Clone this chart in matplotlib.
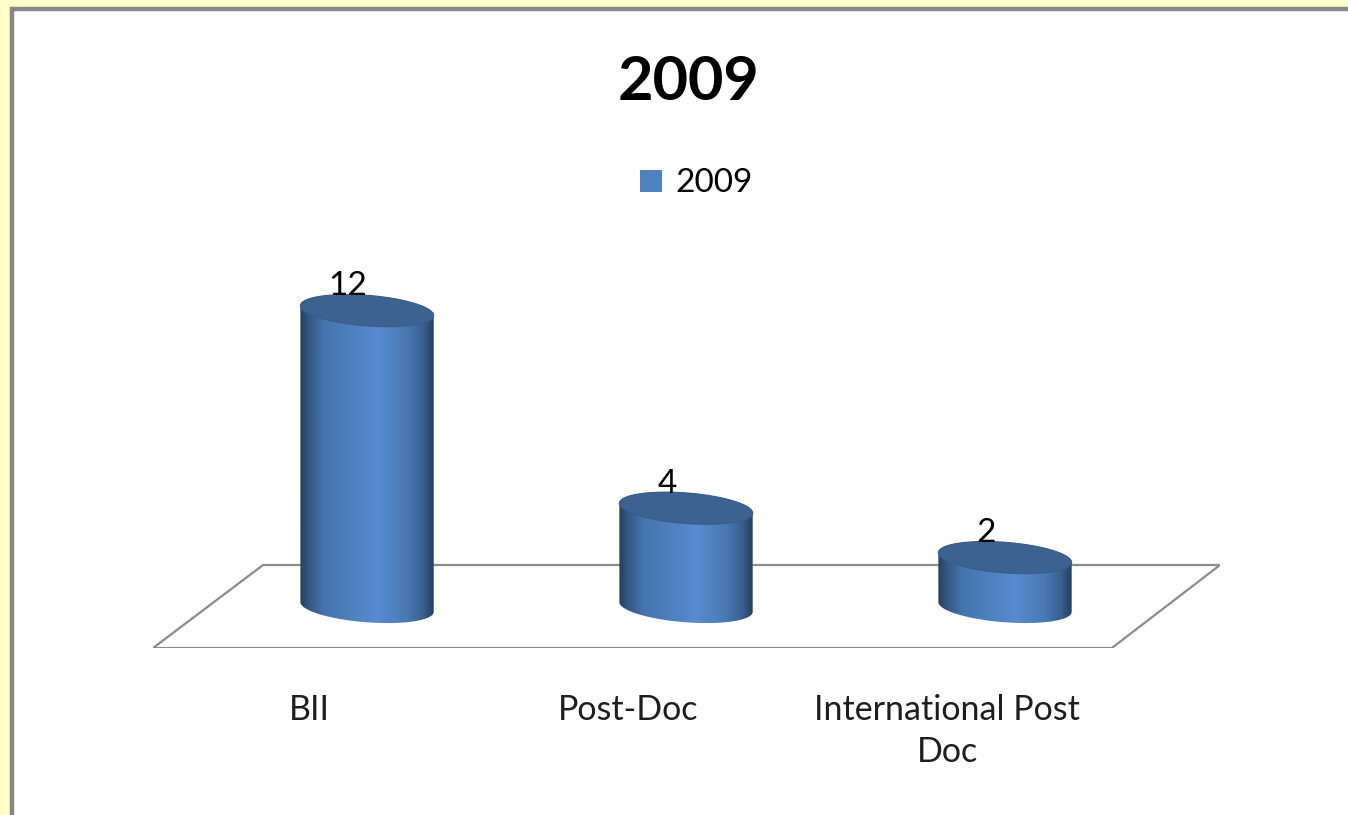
import numpy as np
import matplotlib
matplotlib.use("Agg")
import matplotlib.pyplot as plt
from matplotlib.path import Path
from matplotlib.patches import PathPatch, Rectangle, Polygon
from matplotlib.colors import LinearSegmentedColormap
import matplotlib.transforms as mtransforms

plt.rcParams['font.family'] = ['Lato', 'DejaVu Sans']

categories = ['BII', 'Post-Doc', 'International Post\nDoc']
values = [12, 4, 2]
series_name = '2009'
title = '2009'

fig = plt.figure(figsize=(13.48, 8.15), dpi=100)
fig.patch.set_facecolor('#ffffcc')

# grey chart frame (runs off the right and bottom edges)
frame = Rectangle((12 / 1348, -0.05), 1.1, (815 - 9) / 815 + 0.05,
                  transform=fig.transFigure, facecolor='white',
                  edgecolor='#878787', linewidth=3.2, zorder=-10)
fig.add_artist(frame)

ax = fig.add_axes([153 / 1348, (815 - 648) / 815, (1220 - 153) / 1348, (648 - 280) / 815])
ax.axis('off')
ax.patch.set_alpha(0)

# floor of the 3D plot
floor = Polygon([(-0.671, -1.66), (2.335, -1.66), (2.674, 1.70), (-0.326, 1.70)],
                closed=True, facecolor='none', edgecolor='#8c8c8c', linewidth=1.6)
ax.add_patch(floor)

cmap = LinearSegmentedColormap.from_list('cyl', [
    (0.0, '#24405f'), (0.06, '#34557f'), (0.18, '#4575ad'),
    (0.45, '#5283c4'), (0.58, '#588bd0'), (0.80, '#4a78b2'),
    (0.92, '#3a5f8f'), (1.0, '#263f5f')])

a = 0.209    # half width in category units
b = 0.62     # ellipse half height in value units
s = -0.95    # slight tilt of ellipses
t = np.linspace(0, 2 * np.pi, 200)

def ell(cx, cy, tt):
    dx = a * np.cos(tt)
    return cx + dx, cy + b * np.sin(tt) + s * dx

for i, v in enumerate(values):
    # body: back arc of top, then front arc of bottom
    tb = np.linspace(0, np.pi, 100)
    xt, yt = ell(i, v, tb)
    tf = np.linspace(np.pi, 2 * np.pi, 100)
    xb, yb = ell(i, 0, tf)
    verts = np.column_stack([np.concatenate([xt, xb]), np.concatenate([yt, yb])])
    body = PathPatch(Path(np.vstack([verts, verts[:1]])), facecolor='none', edgecolor='none')
    ax.add_patch(body)
    grad = np.linspace(0, 1, 256).reshape(1, -1)
    im = ax.imshow(grad, cmap=cmap, aspect='auto',
                   extent=(i - a, i + a, -b - abs(s) * a - 0.1, v + b + abs(s) * a + 0.1),
                   zorder=2)
    im.set_clip_path(body)
    xe, ye = ell(i, v, t)
    ax.add_patch(Polygon(np.column_stack([xe, ye]), closed=True,
                         facecolor='#3d6290', edgecolor='#3a5d89', linewidth=0.8, zorder=3))
    ax.text(i - 0.06, v + 0.38, str(v), ha='center', va='bottom',
            fontsize=24, color='black', zorder=4)

ax.set_xlim(-0.671, 2.674)
ax.set_ylim(-1.66, 13.24)

# category labels at the front edge of the floor
offset = mtransforms.ScaledTranslation(-58 / 100, -0.46, fig.dpi_scale_trans)
for i, c in enumerate(categories):
    ax.text(i, -1.66, c, ha='center', va='top', fontsize=24.5, color='#1e1e1e',
            transform=ax.transData + offset, linespacing=1.4)

fig.text(0.5105, 0.9, title, ha='center', va='center', fontsize=44, fontweight='bold')

# legend
leg_ax = fig.add_axes([0, 0, 1, 1])
leg_ax.axis('off')
leg_ax.patch.set_alpha(0)
h = [Rectangle((0, 0), 1, 1, facecolor='#4f81bd', edgecolor='none')]
leg_ax.legend(h, [series_name], loc='center', bbox_to_anchor=(0.5165, 0.775),
              frameon=False, fontsize=24, handlelength=0.65, handleheight=0.65,
              handletextpad=0.4)

fig.savefig('out.png', dpi=100)
